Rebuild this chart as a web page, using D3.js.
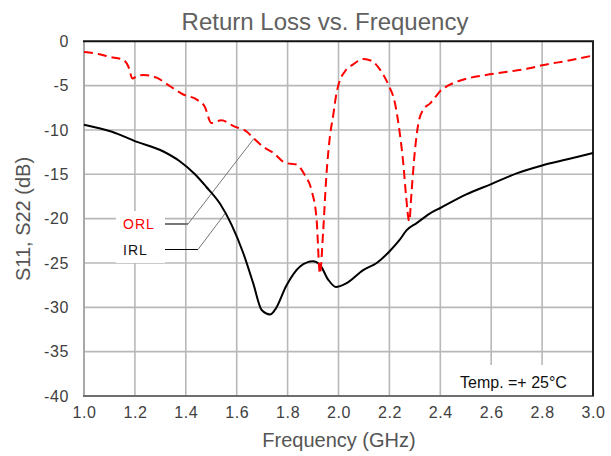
<!DOCTYPE html>
<html><head><meta charset="utf-8">
<script src="https://cdn.jsdelivr.net/npm/d3@7"></script>
<style>
body{margin:0;background:#fff;}
svg{display:block;font-family:"Liberation Sans",Arial,sans-serif;}
</style></head>
<body>
<svg id="chart" width="611" height="456"></svg>
<script>
const xTicks = [1.0,1.2,1.4,1.6,1.8,2.0,2.2,2.4,2.6,2.8,3.0];
const yTicks = [0,-5,-10,-15,-20,-25,-30,-35,-40];

const orlFreq = [1.00,1.06,1.10,1.155,1.175,1.19,1.21,1.235,1.285,1.34,1.39,1.445,1.475,1.50,1.54,1.59,1.64,1.665,1.705,1.745,1.79,1.835,1.868,1.894,1.914,1.927,1.94,1.952,1.966,1.98,1.99,2.00,2.025,2.058,2.097,2.13,2.163,2.196,2.222,2.24,2.255,2.265,2.278,2.287,2.30,2.313,2.333,2.36,2.38,2.40,2.43,2.47,2.58,2.65,2.75,2.80,2.90,3.00];
const orlDb   = [-1.2,-1.45,-1.75,-2.1,-2.9,-4.2,-3.9,-3.8,-4.1,-5.1,-6.0,-6.6,-7.4,-9.2,-8.9,-9.6,-10.2,-10.9,-11.9,-12.6,-13.7,-13.9,-15.1,-16.8,-20.1,-26.2,-21.3,-15.3,-10.8,-8.2,-6.2,-4.9,-3.4,-2.6,-2.0,-2.2,-3.2,-4.9,-7.0,-10.2,-13.9,-17.3,-20.3,-17.0,-12.4,-9.4,-7.7,-7.0,-6.3,-5.6,-5.0,-4.5,-3.8,-3.5,-3.05,-2.7,-2.2,-1.6];

const irlFreq = [1.00,1.11,1.20,1.31,1.375,1.436,1.48,1.534,1.58,1.626,1.665,1.698,1.731,1.75,1.796,1.849,1.90,1.927,1.96,1.99,2.03,2.097,2.15,2.20,2.24,2.268,2.307,2.36,2.40,2.50,2.60,2.70,2.80,2.90,3.00];
const irlDb   = [-9.4,-10.2,-11.25,-12.4,-13.5,-15.0,-16.4,-18.3,-20.7,-23.9,-27.3,-30.3,-30.8,-30.3,-27.5,-25.4,-24.8,-25.2,-26.9,-27.7,-27.3,-25.8,-25.0,-23.7,-22.4,-21.3,-20.5,-19.4,-18.8,-17.3,-16.1,-14.9,-14.0,-13.3,-12.6];

const titleText = "Return Loss vs. Frequency";
const xLabel = "Frequency (GHz)";
const yLabel = "S11, S22 (dB)";
const noteText = "Temp. =+ 25°C";
const orlName = "ORL", irlName = "IRL";
const orlAnchor = [1.668, -10.95];
const irlAnchor = [1.555, -19.4];

const svg = d3.select("#chart");
const L = 84, R = 593, T = 41.3, B = 396;
const x = d3.scaleLinear().domain([1,3]).range([L,R]);
const y = d3.scaleLinear().domain([-40,0]).range([B,T]);

const g = svg.append("g");
g.selectAll(".vg").data(xTicks.slice(1,-1)).join("line")
  .attr("x1",d=>x(d)).attr("x2",d=>x(d)).attr("y1",T).attr("y2",B)
  .attr("stroke","#b8b8b8").attr("stroke-width",1.6);
g.selectAll(".hg").data(yTicks.slice(1,-1)).join("line")
  .attr("x1",L).attr("x2",R).attr("y1",d=>y(d)).attr("y2",d=>y(d))
  .attr("stroke","#b8b8b8").attr("stroke-width",1.6);

svg.append("rect").attr("x",116).attr("y",211).attr("width",49).attr("height",52).attr("fill","#fff");
svg.append("rect").attr("x",454).attr("y",365).attr("width",128).attr("height",30).attr("fill","#fff");

svg.append("line").attr("x1",L).attr("x2",L).attr("y1",T).attr("y2",B).attr("stroke","#a8a8a8").attr("stroke-width",2);
svg.append("line").attr("x1",L-1).attr("x2",R+1).attr("y1",B).attr("y2",B).attr("stroke","#6e6e6e").attr("stroke-width",2);
svg.append("line").attr("x1",L-1).attr("x2",R+1).attr("y1",T).attr("y2",T).attr("stroke","#111").attr("stroke-width",2);
svg.append("line").attr("x1",R).attr("x2",R).attr("y1",T).attr("y2",B).attr("stroke","#222").attr("stroke-width",2);

const xAxis = d3.axisBottom(x).tickValues(xTicks).tickFormat(d3.format(".1f")).tickSize(0).tickPadding(11);
const xa = svg.append("g").attr("transform",`translate(0,${B})`).call(xAxis);
const yAxis = d3.axisLeft(y).tickValues(yTicks).tickFormat(d=>d===0?"0":String(d)).tickSize(0).tickPadding(15);
const ya = svg.append("g").attr("transform",`translate(${L},0)`).call(yAxis);
[xa,ya].forEach(a=>{
  a.select(".domain").remove();
  a.selectAll("text").attr("font-size",16).attr("fill","#404040").attr("letter-spacing",0.6).attr("font-family","Liberation Sans, Arial, sans-serif");
});

const orlPts = [[165,224],[188,224],[x(orlAnchor[0]),y(orlAnchor[1])]];
svg.append("line").attr("x1",orlPts[0][0]).attr("y1",orlPts[0][1]).attr("x2",orlPts[1][0]).attr("y2",orlPts[1][1]).attr("stroke","#777").attr("stroke-width",2);
svg.append("line").attr("x1",orlPts[1][0]).attr("y1",orlPts[1][1]).attr("x2",orlPts[2][0]).attr("y2",orlPts[2][1]).attr("stroke","#777").attr("stroke-width",1);
const irlPts = [[165,249.5],[198,249.5],[x(irlAnchor[0]),y(irlAnchor[1])]];
svg.append("line").attr("x1",irlPts[0][0]).attr("y1",irlPts[0][1]).attr("x2",irlPts[1][0]).attr("y2",irlPts[1][1]).attr("stroke","#000").attr("stroke-width",1.2);
svg.append("line").attr("x1",irlPts[1][0]).attr("y1",irlPts[1][1]).attr("x2",irlPts[2][0]).attr("y2",irlPts[2][1]).attr("stroke","#777").attr("stroke-width",1);

const line = d3.line().x(d=>x(d[0])).y(d=>y(d[1])).curve(d3.curveMonotoneX);
const irl = irlFreq.map((f,i)=>[f,irlDb[i]]);
const orl = orlFreq.map((f,i)=>[f,orlDb[i]]);
svg.append("path").datum(irl).attr("d",line).attr("fill","none").attr("stroke","#000").attr("stroke-width",2);
svg.append("path").datum(orl).attr("d",line).attr("fill","none").attr("stroke","#ff0000").attr("stroke-width",2).attr("stroke-dasharray","9,5");

svg.append("text").attr("x",123).attr("y",229).attr("font-size",14).attr("fill","#ff0000").attr("letter-spacing",1).text(orlName);
svg.append("text").attr("x",123).attr("y",255).attr("font-size",14).attr("fill","#111").attr("letter-spacing",1).text(irlName);
svg.append("text").attr("x",460).attr("y",388).attr("font-size",16).attr("fill","#111").text(noteText);

svg.append("text").attr("x",325).attr("y",30).attr("text-anchor","middle").attr("font-size",24).attr("fill","#606060").text(titleText);
svg.append("text").attr("x",339).attr("y",447).attr("text-anchor","middle").attr("font-size",20).attr("fill","#555").text(xLabel);
svg.append("text").attr("transform","translate(30,219) rotate(-90)").attr("text-anchor","middle").attr("font-size",20).attr("fill","#555").text(yLabel);
</script>
</body></html>
